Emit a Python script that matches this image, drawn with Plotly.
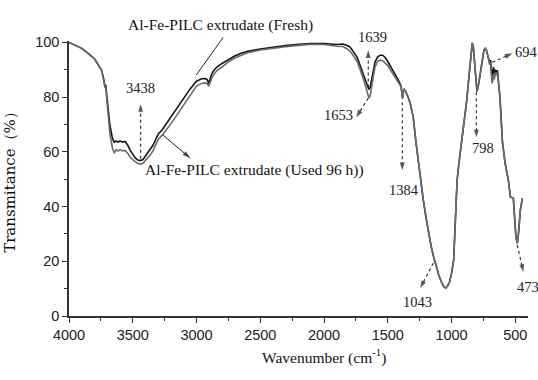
import plotly.graph_objects as go

# ---- data ----
wn_fresh = [4000, 3950, 3900, 3850, 3800, 3760, 3745, 3730, 3718, 3712, 3700, 3680, 3660, 3645,
            3630, 3615, 3600, 3580, 3560, 3540, 3520, 3500, 3480, 3460, 3440, 3420, 3400, 3380,
            3360, 3340, 3320, 3300, 3270, 3240, 3200, 3150, 3100, 3050, 3000, 2960, 2930, 2915,
            2905, 2895, 2880, 2860, 2840, 2800, 2760, 2700, 2650, 2600, 2500, 2400, 2300, 2200,
            2100, 2000, 1950, 1900, 1850, 1800, 1780, 1760, 1740, 1720, 1700, 1680, 1665, 1655,
            1648, 1638, 1628, 1615, 1600, 1580, 1560, 1540, 1520, 1500, 1480, 1460, 1440, 1420,
            1405, 1395, 1388, 1384, 1380, 1372, 1360, 1340, 1320, 1300, 1280, 1260, 1245, 1220,
            1200, 1180, 1160, 1140, 1120, 1100, 1080, 1060, 1045, 1030, 1015, 1000, 983, 970,
            956, 940, 915, 900, 880, 860, 845, 837, 828, 818, 808, 800, 790, 775, 760, 745, 735,
            725, 712, 700, 694, 688, 682, 676, 670, 664, 656, 648, 640, 620, 601, 580, 554, 538,
            525, 515, 505, 495, 484, 475, 460, 450, 444]
tr_fresh = [100, 99.0, 97.8, 96.0, 94.0, 91.0, 90.0, 87.0, 84.0, 84.5, 78.0, 70.0, 65.0, 63.5,
            64.0, 63.5, 64.0, 63.5, 63.8, 62.5, 60.5, 59.0, 57.8, 57.0, 56.8, 57.2, 58.5, 59.8,
            61.0, 62.5, 64.5, 66.5, 68.0, 70.0, 72.8, 76.2, 79.5, 83.0, 85.8, 86.7, 86.8, 86.3,
            85.0, 86.5, 88.5, 90.0, 91.0, 92.3, 93.4, 95.0, 96.0, 96.7, 97.6, 98.3, 98.8, 99.3,
            99.6, 99.6, 99.4, 99.2, 99.4, 98.5, 97.3, 96.0, 94.5, 92.0, 89.5, 87.0, 85.0, 83.5,
            82.8, 83.5, 86.0, 90.0, 92.8, 94.6, 95.3, 95.3, 94.5, 93.0, 91.5, 90.0, 88.0, 86.5,
            85.0, 84.0, 81.0, 79.5, 81.5, 83.0, 82.0, 80.0, 77.0, 72.6, 64.0, 56.0, 50.0, 42.0,
            36.0, 30.5, 25.5, 21.6, 18.0, 15.0, 12.5, 10.7, 10.2, 11.0, 12.5, 15.5, 20.4, 33.0,
            49.6, 56.5, 65.3, 71.0, 79.0, 89.0, 96.5, 99.8, 98.0, 92.0, 85.0, 82.0, 84.0, 89.0,
            94.0, 97.3, 97.8, 97.0, 94.5, 92.0, 93.5, 90.5, 87.0, 89.5, 91.0, 88.5, 90.0, 89.0,
            89.8, 80.0, 64.0, 56.0, 49.6, 43.5, 43.3, 43.0, 36.0, 29.0, 26.6, 30.0, 38.7, 42.0, 43.0]

wn_used = wn_fresh
tr_used = [100, 99.0, 97.8, 96.0, 94.0, 91.0, 90.0, 86.5, 83.5, 83.5, 76.0, 67.0, 61.5, 59.5,
           60.8, 60.3, 60.8, 60.3, 60.5, 59.5, 58.0, 57.0, 56.3, 55.8, 55.5, 55.8, 56.8, 57.8,
           59.0, 60.5, 62.5, 64.5, 66.0, 67.8, 70.3, 73.7, 77.0, 80.7, 84.0, 85.0, 85.2, 84.8,
           84.0, 85.0, 87.0, 88.5, 89.7, 91.0, 92.5, 94.3, 95.4, 96.2, 97.2, 97.9, 98.4, 98.9,
           99.3, 99.2, 98.8, 98.6, 98.5, 97.0, 95.8, 94.5, 93.0, 90.5, 88.0, 85.0, 82.5, 80.3,
           79.6, 80.5, 83.5, 87.5, 91.0, 93.0, 93.5, 93.3, 92.5, 91.5, 90.0, 88.5, 87.0, 85.8,
           84.5, 83.8, 81.0, 79.5, 81.5, 83.0, 82.0, 80.0, 77.0, 72.6, 64.0, 56.0, 50.0, 42.0,
           36.0, 30.5, 25.5, 21.6, 18.0, 15.0, 12.5, 10.7, 10.2, 11.0, 12.5, 15.5, 20.4, 33.0,
           49.6, 56.5, 65.3, 71.0, 79.0, 89.0, 96.5, 99.8, 98.0, 92.0, 85.0, 82.0, 84.0, 89.0,
           94.0, 97.3, 97.8, 97.0, 94.5, 92.0, 92.5, 89.0, 85.0, 86.0, 88.5, 86.5, 89.0, 88.0,
           89.0, 80.0, 64.0, 56.0, 49.6, 43.5, 43.3, 43.0, 36.0, 29.0, 26.6, 30.0, 38.7, 42.0, 43.0]

series_names = ["Al-Fe-PILC extrudate (Fresh)", "Al-Fe-PILC extrudate (Used 96 h))"]
x_ticks = [4000, 3500, 3000, 2500, 2000, 1500, 1000, 500]
y_ticks = [0, 20, 40, 60, 80, 100]
Y_MAX = 100.5

# peak labels: text, text position, dashed arrow (start -> end)
peak_labels = ["3438", "1639", "1653", "1384", "1043", "798", "694", "473"]
peak_text_x = [3438, 1622, 1889, 1370, 1268, 750, 515, 505]
peak_text_y = [83.2, 101.8, 73.4, 46.0, 5.1, 61.3, 96.4, 10.6]
arrow_x0 = [3438, 1653, 1653, 1386, 1143, 805, 680, 484]
arrow_y0 = [57.5, 83.5, 79.6, 78.1, 19.3, 81.8, 92.7, 25.9]
arrow_x1 = [3438, 1653, 1747, 1386, 1245, 805, 523, 436]
arrow_y1 = [77.4, 97.1, 72.6, 53.3, 10.2, 65.3, 96.0, 16.1]

# solid arrows for the two series labels (start -> end)
label_arrow_x = [[3003, 2791], [3262, 3050]]
label_arrow_y = [[88.0, 101.8], [66.1, 57.7]]

serif = "Liberation Serif, Times New Roman, serif"
sans = "Liberation Sans, Arial, sans-serif"

fig = go.Figure()
fig.add_trace(go.Scatter(x=wn_fresh, y=tr_fresh, mode="lines", name=series_names[0],
                         line=dict(color="#151515", width=1.6)))
fig.add_trace(go.Scatter(x=wn_used, y=tr_used, mode="lines", name=series_names[1],
                         line=dict(color="#6a6a6a", width=1.6)))

# dashed arrows for peak labels
for i in range(len(peak_labels)):
    fig.add_trace(go.Scatter(
        x=[arrow_x0[i], arrow_x1[i]], y=[arrow_y0[i], arrow_y1[i]],
        mode="lines+markers", cliponaxis=False, showlegend=False, hoverinfo="skip",
        line=dict(color="#222222", width=1.1, dash="dot"),
        marker=dict(symbol="arrow", size=[0, 8], angleref="previous", color="#111111",
                    line=dict(width=0))))
    xanchor = "left" if peak_labels[i] in ("694", "473") else "center"
    fig.add_annotation(x=peak_text_x[i], y=peak_text_y[i] / Y_MAX, yref="paper",
                       text=peak_labels[i], showarrow=False, xanchor=xanchor,
                       yanchor="middle",
                       font=dict(family=serif, size=14.5, color="#222222"))

# solid arrows: shaft as an unclipped shape, head as an unclipped marker
for ax_, ay_ in zip(label_arrow_x, label_arrow_y):
    fig.add_shape(type="line", xref="x", yref="paper",
                  x0=ax_[0], x1=ax_[1], y0=ay_[0] / Y_MAX, y1=ay_[1] / Y_MAX,
                  line=dict(color="#222222", width=1.0))
    fig.add_trace(go.Scatter(
        x=ax_, y=ay_, mode="markers", cliponaxis=False, showlegend=False,
        hoverinfo="skip",
        marker=dict(symbol="arrow", size=[0, 8], angleref="previous", color="#111111",
                    line=dict(width=0))))

fig.add_annotation(x=2815, y=106.2 / Y_MAX, yref="paper", text=series_names[0],
                   showarrow=False, xanchor="center", yanchor="middle",
                   font=dict(family=serif, size=15.5, color="#111111"))
fig.add_annotation(x=3419, y=53.2 / Y_MAX, yref="paper", text=series_names[1],
                   showarrow=False, xanchor="left", yanchor="middle",
                   font=dict(family=serif, size=15.5, color="#111111"))

# x axis title (offset to the right as in the reference)
fig.add_annotation(x=0.555, y=-0.149, xref="paper", yref="paper",
                   text="Wavenumber (cm<sup>-1</sup>)", showarrow=False,
                   xanchor="center", yanchor="middle",
                   font=dict(family=serif, size=15.5, color="#111111"))

fig.update_layout(
    width=538, height=380,
    margin=dict(l=69, r=10, t=41, b=64),
    paper_bgcolor="white", plot_bgcolor="white",
    showlegend=False,
    xaxis=dict(
        range=[4000, 400], tickvals=x_ticks, ticktext=[str(v) for v in x_ticks],
        showgrid=False, zeroline=False, showline=True, linecolor="#333333", linewidth=1.5,
        ticks="outside", ticklen=5, tickwidth=1.3, tickcolor="#333333",
        minor=dict(dtick=250, tick0=0, ticks="outside", ticklen=3, tickwidth=1.2,
                   tickcolor="#333333", showgrid=False),
        tickfont=dict(family=sans, size=14.5, color="#222222"),
    ),
    yaxis=dict(
        range=[0, Y_MAX], tickvals=y_ticks, ticktext=[str(v) for v in y_ticks],
        showgrid=False, zeroline=False, showline=True, linecolor="#333333", linewidth=1.5,
        ticks="outside", ticklen=5, tickwidth=1.3, tickcolor="#333333",
        minor=dict(dtick=10, tick0=0, ticks="outside", ticklen=3, tickwidth=1.2,
                   tickcolor="#333333", showgrid=False),
        tickfont=dict(family=sans, size=14.5, color="#222222"),
        title=dict(text="Transmitance（%）", standoff=16,
                   font=dict(family="DejaVu Serif, serif", size=15, color="#111111")),
    ),
)

fig.write_html("out.html")
